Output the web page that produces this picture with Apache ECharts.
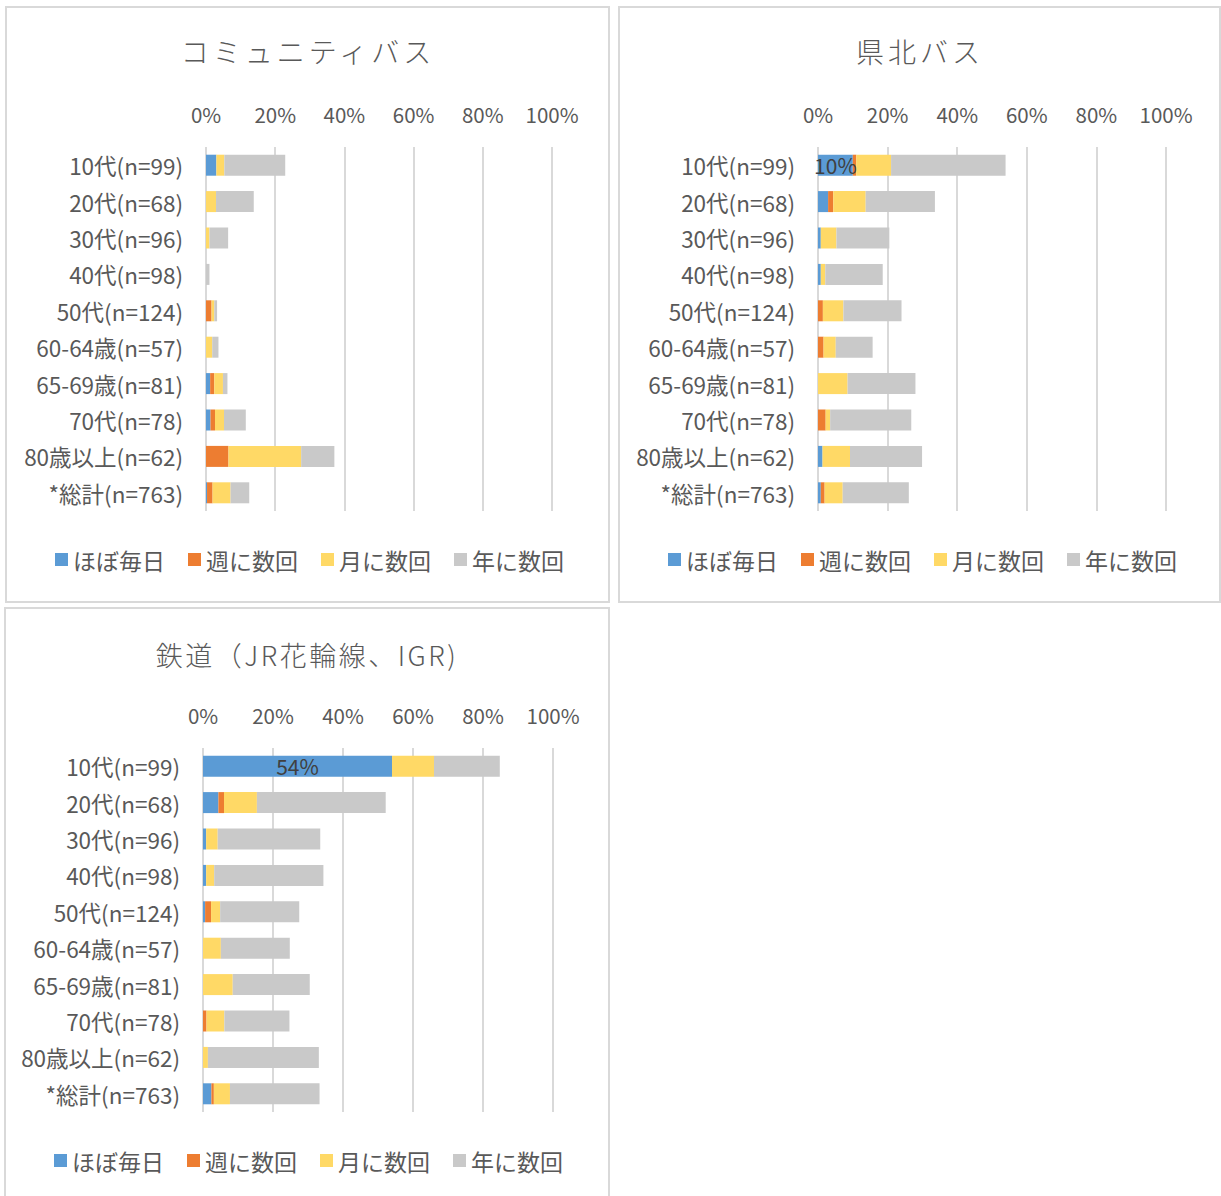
<!DOCTYPE html>
<html>
<head>
<meta charset="utf-8">
<script src="https://cdn.jsdelivr.net/npm/echarts@6/dist/echarts.min.js"></script>
<style>
  html, body { margin: 0; padding: 0; background: #ffffff; }
  #chart { width: 1221px; height: 1196px; }
  /* panel titles: wide tracking as in the original deck */
  #chart text[style*="28px"] { letter-spacing: 4px; }
  #chart text[style*="27px"] { letter-spacing: 2.5px; }
</style>
</head>
<body>
<div id="chart"></div>
<script>
// Age groups (rows, top to bottom)
const categories = [
  '10代(n=99)', '20代(n=68)', '30代(n=96)', '40代(n=98)', '50代(n=124)',
  '60-64歳(n=57)', '65-69歳(n=81)', '70代(n=78)', '80歳以上(n=62)', '*総計(n=763)'
];

// Frequency of use (stack order, left to right)
const frequencyNames = ['ほぼ毎日', '週に数回', '月に数回', '年に数回'];

// Percent axis ticks
const tickValues = [0, 20, 40, 60, 80, 100];

// コミュニティバス (%)
const communityDaily   = [3.0, 0, 0, 0, 0, 0, 1.2, 1.3, 0, 0.3];
const communityWeekly  = [0, 0, 0, 0, 1.6, 0, 1.2, 1.3, 6.5, 1.6];
const communityMonthly = [2.3, 2.9, 1.0, 0, 0.8, 1.8, 2.5, 2.6, 21.0, 5.2];
const communityYearly  = [17.6, 10.9, 5.4, 1.0, 0.8, 1.8, 1.3, 6.3, 9.6, 5.4];

// 県北バス (%)
const kenpokuDaily   = [10, 2.9, 0.8, 0.8, 0, 0, 0, 0, 1.3, 0.8];
const kenpokuWeekly  = [1.0, 1.5, 0, 0, 1.4, 1.6, 0, 2.2, 0, 1.1];
const kenpokuMonthly = [10.0, 9.3, 4.5, 1.3, 5.9, 3.5, 8.5, 1.3, 7.9, 5.2];
const kenpokuYearly  = [32.9, 19.9, 15.2, 16.5, 16.7, 10.6, 19.5, 23.3, 20.7, 19.0];

// 鉄道（JR花輪線、IGR） (%)
const railDaily   = [54, 4.4, 0.9, 0.9, 0.6, 0, 0, 0, 0, 2.4];
const railWeekly  = [0, 1.6, 0, 0, 1.7, 0, 0, 1.0, 0, 0.7];
const railMonthly = [12.0, 9.4, 3.3, 2.3, 2.6, 5.1, 8.5, 5.1, 1.4, 4.6];
const railYearly  = [18.8, 36.8, 29.3, 31.2, 22.6, 19.7, 22.0, 18.6, 31.7, 25.6];

const panelTitles = ['コミュニティバス', '県北バス', '鉄道（JR花輪線、IGR)'];
const panelValues = [
  [communityDaily, communityWeekly, communityMonthly, communityYearly],
  [kenpokuDaily, kenpokuWeekly, kenpokuMonthly, kenpokuYearly],
  [railDaily, railWeekly, railMonthly, railYearly]
];

// Segments that carry a value label: [panel, frequency, row]
const labeledSegments = [[1, 0, 0], [2, 0, 0]];

// ---- styling / layout ----
const colors = ['#5B9BD5', '#ED7D31', '#FFD966', '#C9C9C9'];
const textColor = '#595959';
const lineColor = '#D9D9D9';
const fontFamily = '"Noto Sans CJK JP", "Noto Sans", sans-serif';

const panels = [
  { box: [6, 7, 603, 595],   grid: { left: 206, top: 147, width: 346, height: 364 }, titleX: 308, titleY: 37,  titleSize: 28, legend: { left: 55,  top: 548 } },
  { box: [619, 7, 601, 595], grid: { left: 818, top: 147, width: 348, height: 364 }, titleX: 920, titleY: 37,  titleSize: 28, legend: { left: 668, top: 548 } },
  { box: [5, 608, 604, 600], grid: { left: 203, top: 748, width: 350, height: 364 }, titleX: 307, titleY: 641, titleSize: 27, legend: { left: 54,  top: 1149 } }
];

const tickStep = tickValues[1] - tickValues[0];

const option = {
  animation: false,
  backgroundColor: '#ffffff',
  textStyle: { fontFamily: fontFamily },
  graphic: panels.map(p => ({
    type: 'rect',
    shape: { x: p.box[0], y: p.box[1], width: p.box[2], height: p.box[3] },
    style: { fill: 'none', stroke: lineColor, lineWidth: 2 },
    silent: true,
    z: -10
  })),
  title: panels.map((p, i) => ({
    text: panelTitles[i],
    left: p.titleX,
    top: p.titleY,
    textAlign: 'center',
    padding: 0,
    textStyle: { fontFamily: fontFamily, fontSize: p.titleSize, fontWeight: 300, color: textColor }
  })),
  legend: panels.map(p => ({
    data: frequencyNames,
    left: p.legend.left,
    top: p.legend.top,
    orient: 'horizontal',
    icon: 'rect',
    itemWidth: 13,
    itemHeight: 13,
    itemGap: 23,
    padding: 0,
    selectedMode: false,
    textStyle: { fontFamily: fontFamily, fontSize: 23, color: textColor }
  })),
  grid: panels.map(p => Object.assign({ containLabel: false }, p.grid)),
  xAxis: panels.map((p, i) => ({
    type: 'value',
    gridIndex: i,
    position: 'top',
    min: tickValues[0],
    max: tickValues[tickValues.length - 1],
    interval: tickStep,
    axisLine: { show: false },
    axisTick: { show: false },
    axisLabel: { formatter: '{value}%', fontFamily: fontFamily, fontSize: 20.5, color: textColor, margin: 23 },
    splitLine: { show: true, lineStyle: { color: lineColor, width: 2 } }
  })),
  yAxis: panels.map((p, i) => ({
    type: 'category',
    gridIndex: i,
    data: categories,
    inverse: true,
    axisLine: { show: false },
    axisTick: { show: false },
    splitLine: { show: false },
    axisLabel: { fontFamily: fontFamily, fontSize: 22.5, color: textColor, margin: 23, padding: [0, 0, 3, 0] }
  })),
  series: []
};

panelValues.forEach((values, p) => {
  values.forEach((arr, k) => {
    option.series.push({
      type: 'bar',
      name: frequencyNames[k],
      stack: 'panel' + p,
      xAxisIndex: p,
      yAxisIndex: p,
      barWidth: 21,
      itemStyle: { color: colors[k] },
      label: {
        show: false,
        position: 'inside',
        color: '#404040',
        fontFamily: fontFamily,
        fontSize: 21,
        formatter: d => d.value + '%'
      },
      data: arr.map((v, r) => {
        const labeled = labeledSegments.some(s => s[0] === p && s[1] === k && s[2] === r);
        return labeled ? { value: v, label: { show: true } } : v;
      })
    });
  });
});

const chart = echarts.init(document.getElementById('chart'), null, { renderer: 'svg' });
chart.setOption(option);
</script>
</body>
</html>
